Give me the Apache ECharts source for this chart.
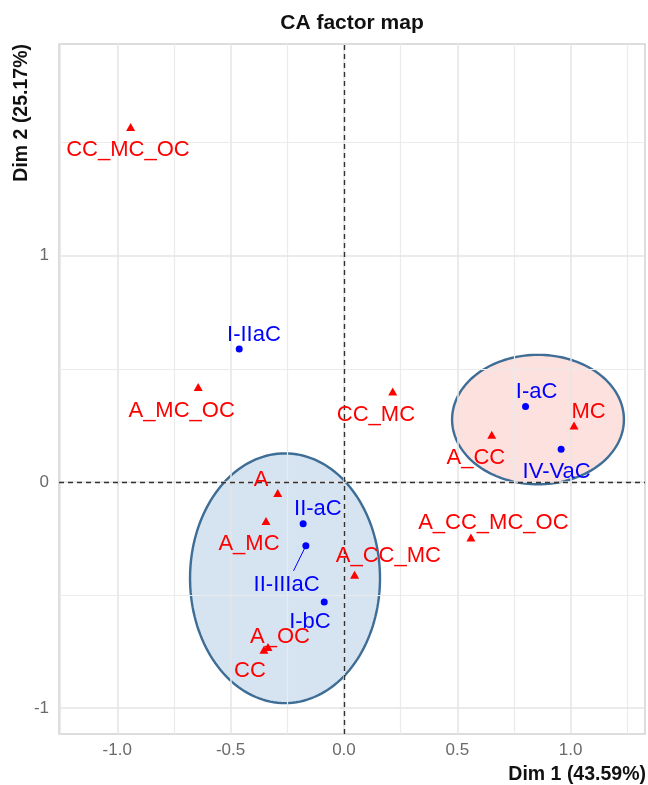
<!DOCTYPE html>
<html>
<head>
<meta charset="utf-8">
<script src="https://cdn.jsdelivr.net/npm/echarts@6/dist/echarts.min.js"></script>
<style>
html,body{margin:0;padding:0;background:#fff;}
#chart{width:648px;height:785px;}
</style>
</head>
<body>
<div id="chart"></div>
<script>
// ---- Data ----
const redNames = ['CC_MC_OC','A_MC_OC','A','A_MC','A_CC_MC','A_OC','CC','MC','A_CC','A_CC_MC_OC','CC_MC'];
const redDim1  = [-0.941, -0.643, -0.292, -0.344, 0.047, -0.335, -0.353, 1.015, 0.652, 0.560, 0.215];
const redDim2  = [ 1.569,  0.420, -0.049, -0.172, -0.410, -0.729, -0.742, 0.250, 0.209, -0.245, 0.400];
const redLabelDim1 = [-0.953, -0.716, -0.366, -0.419, 0.196, -0.282, -0.415, 1.079, 0.582, 0.659, 0.141];
const redLabelDim2 = [ 1.466,  0.316,  0.011, -0.275, -0.325, -0.683, -0.834, 0.308, 0.105, -0.183, 0.297];

const blueNames = ['I-IIaC','II-aC','II-IIIaC','I-bC','I-aC','IV-VaC'];
const blueDim1  = [-0.462, -0.180, -0.168, -0.087, 0.801, 0.958];
const blueDim2  = [ 0.588, -0.185, -0.282, -0.530, 0.334, 0.145];
const blueLabelDim1 = [-0.397, -0.115, -0.253, -0.150, 0.850, 0.938];
const blueLabelDim2 = [ 0.652, -0.118, -0.455, -0.617, 0.400, 0.046];
const connectorNames = ['II-IIIaC'];

// ellipses: centre dim1, centre dim2, radius dim1, radius dim2
const ellipseCx = [-0.260, 0.856];
const ellipseCy = [-0.4255, 0.276];
const ellipseRx = [0.419, 0.379];
const ellipseRy = [0.552, 0.286];

const xTicks = [-1, -0.5, 0, 0.5, 1];
const xTickLabels = ['-1.0','-0.5','0.0','0.5','1.0'];
const xMinorTicks = [-1.25, -0.75, -0.25, 0.25, 0.75, 1.25];
const yTicks = [-1, 0, 1];
const yTickLabels = ['-1','0','1'];
const yMinorTicks = [-0.5, 0.5, 1.5];

const titleText = 'CA factor map';
const xTitle = 'Dim 1 (43.59%)';
const yTitle = 'Dim 2 (25.17%)';

// ---- Build chart ----
const FONT = '"Liberation Sans", Arial, Helvetica, sans-serif';
const RED = '#FF0000', BLUE = '#0000FF';
const ellipseFill = ['rgba(51,122,183,0.2)', 'rgba(248,118,109,0.22)'];
const ellipseStroke = '#3E6D96';

const chart = echarts.init(document.getElementById('chart'), null, {renderer: 'canvas'});

const gridLineData = [];
xTicks.forEach(v => gridLineData.push({xAxis: v, lineStyle: {color: '#E4E4E4', width: 1.5, type: 'solid'}}));
xMinorTicks.forEach(v => gridLineData.push({xAxis: v, lineStyle: {color: '#EBEBEB', width: 1.2, type: 'solid'}}));
yTicks.forEach(v => gridLineData.push({yAxis: v, lineStyle: {color: '#E4E4E4', width: 1.5, type: 'solid'}}));
yMinorTicks.forEach(v => gridLineData.push({yAxis: v, lineStyle: {color: '#EBEBEB', width: 1.2, type: 'solid'}}));

const ellipseData = ellipseCx.map((c, i) => [c, ellipseCy[i], ellipseRx[i], ellipseRy[i], i]);

const connectorData = [];
blueNames.forEach((n, i) => {
  if (connectorNames.includes(n)) connectorData.push([blueDim1[i], blueDim2[i], blueLabelDim1[i], blueLabelDim2[i]]);
});

function labelSeries(names, xs, ys, color) {
  return {
    type: 'scatter',
    z: 8,
    silent: true,
    symbol: 'circle',
    symbolSize: 1,
    itemStyle: {color: 'rgba(0,0,0,0)', opacity: 1},
    label: {
      show: true,
      position: 'inside',
      formatter: p => p.data.name,
      color: color,
      fontSize: 22,
      fontFamily: FONT
    },
    labelLayout: {hideOverlap: false},
    emphasis: {disabled: true},
    data: names.map((n, i) => ({name: n, value: [xs[i], ys[i]]}))
  };
}

const option = {
  animation: false,
  backgroundColor: '#fff',
  grid: {
    left: 59, right: 3, top: 44, bottom: 51,
    show: true, borderColor: '#D2D2D2', borderWidth: 1.5, backgroundColor: 'transparent',
    containLabel: false, outerBoundsMode: 'none'
  },
  xAxis: {
    type: 'value', min: -1.257, max: 1.328,
    splitLine: {show: false},
    axisLine: {show: false},
    axisTick: {show: true, customValues: xTicks, length: 4, lineStyle: {color: '#C8C8C8', width: 1.5}},
    axisLabel: {
      customValues: xTicks,
      formatter: v => xTickLabels[xTicks.findIndex(t => Math.abs(t - v) < 1e-9)],
      color: '#6A6A6A', fontSize: 17, fontFamily: FONT, margin: 8
    }
  },
  yAxis: {
    type: 'value', min: -1.114, max: 1.936,
    splitLine: {show: false},
    axisLine: {show: false},
    axisTick: {show: true, customValues: yTicks, length: 4, lineStyle: {color: '#C8C8C8', width: 1.5}},
    axisLabel: {
      customValues: yTicks,
      formatter: v => yTickLabels[yTicks.findIndex(t => Math.abs(t - v) < 1e-9)],
      color: '#6A6A6A', fontSize: 17, fontFamily: FONT, margin: 10
    }
  },
  graphic: [
    {type: 'text', x: 352, y: 23, z: 10,
     style: {text: titleText, font: 'bold 21px ' + FONT, fill: '#111', textAlign: 'center', textVerticalAlign: 'middle'}},
    {type: 'text', x: 646, y: 775, z: 10,
     style: {text: xTitle, font: 'bold 19.5px ' + FONT, fill: '#111', textAlign: 'right', textVerticalAlign: 'middle'}},
    {type: 'text', x: 22, y: 44, rotation: Math.PI / 2, z: 10,
     style: {text: yTitle, font: 'bold 19.5px ' + FONT, fill: '#111', textAlign: 'right', textVerticalAlign: 'middle'}}
  ],
  series: [
    { // gridlines
      type: 'line', data: [], z: 1, silent: true,
      markLine: {silent: true, symbol: 'none', label: {show: false}, animation: false, data: gridLineData}
    },
    { // ellipses
      type: 'custom', z: 2, silent: true,
      coordinateSystem: 'cartesian2d',
      data: ellipseData,
      encode: {x: 0, y: 1},
      renderItem: (params, api) => {
        const cx = api.value(0), cy = api.value(1), rx = api.value(2), ry = api.value(3), k = api.value(4);
        const pts = [];
        const n = 160;
        for (let i = 0; i < n; i++) {
          const t = 2 * Math.PI * i / n;
          pts.push(api.coord([cx + rx * Math.cos(t), cy + ry * Math.sin(t)]));
        }
        return {type: 'polygon', shape: {points: pts},
                style: {fill: ellipseFill[k], stroke: ellipseStroke, lineWidth: 2.4}};
      }
    },
    { // zero dashed lines
      type: 'line', data: [], z: 3, silent: true,
      markLine: {silent: true, symbol: 'none', label: {show: false}, animation: false,
        lineStyle: {color: '#333', width: 1.4, type: [5, 4]},
        data: [{xAxis: 0}, {yAxis: 0}]}
    },
    { // connector lines
      type: 'custom', z: 4, silent: true,
      coordinateSystem: 'cartesian2d',
      data: connectorData,
      encode: {x: 0, y: 1},
      renderItem: (params, api) => {
        const p = api.coord([api.value(0), api.value(1)]);
        const l = api.coord([api.value(2), api.value(3)]);
        const dy = l[1] - p[1];
        const t = dy !== 0 ? Math.max(0, (Math.abs(dy) - 14) / Math.abs(dy)) : 0.6;
        const e = [p[0] + (l[0] - p[0]) * t, p[1] + (l[1] - p[1]) * t];
        return {type: 'line', shape: {x1: p[0], y1: p[1], x2: e[0], y2: e[1]},
                style: {stroke: BLUE, lineWidth: 1}};
      }
    },
    {
      type: 'scatter', z: 6, silent: true,
      symbol: 'triangle', symbolSize: [9, 8],
      itemStyle: {color: RED, opacity: 1},
      data: redDim1.map((x, i) => [x, redDim2[i]])
    },
    {
      type: 'scatter', z: 6, silent: true,
      symbol: 'circle', symbolSize: 7,
      itemStyle: {color: BLUE, opacity: 1},
      data: blueDim1.map((x, i) => [x, blueDim2[i]])
    },
    labelSeries(redNames, redLabelDim1, redLabelDim2, RED),
    labelSeries(blueNames, blueLabelDim1, blueLabelDim2, BLUE)
  ]
};
chart.setOption(option);
</script>
</body>
</html>
